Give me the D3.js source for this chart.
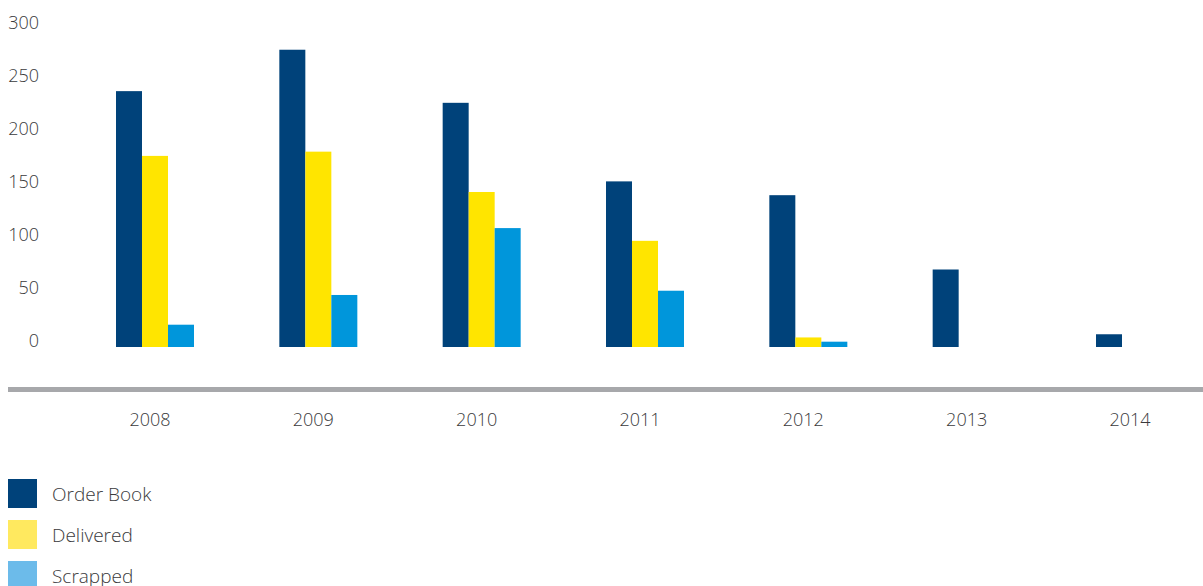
<!DOCTYPE html>
<html>
<head>
<meta charset="utf-8">
<script src="https://cdn.jsdelivr.net/npm/d3@7/dist/d3.min.js"></script>
<style>
  html, body { margin: 0; padding: 0; background: #ffffff; }
  svg text { font-family: "Open Sans", "Noto Sans", sans-serif; font-weight: 300; fill: #3a3a3c; }
</style>
</head>
<body>
<svg id="chart" width="1203" height="586"></svg>
<script>
// Fleet figures per year
const years = ["2008", "2009", "2010", "2011", "2012", "2013", "2014"];
const orderBook = [241, 280, 230, 156, 143, 73, 12];
const delivered = [180, 184, 146, 100, 9, 0, 0];
const scrapped = [21, 49, 112, 53, 5, 0, 0];
const seriesNames = ["Order Book", "Delivered", "Scrapped"];
const yTicks = [0, 50, 100, 150, 200, 250, 300];

const barColors = ["#00427a", "#ffe500", "#0096db"];
const legendColors = ["#00427a", "#ffe95f", "#6cbbea"];

const svg = d3.select("#chart");

const y = d3.scaleLinear().domain([0, 300]).range([347, 28.5]);
const x = d3.scalePoint().domain(years).range([150, 1130]);
const xs = d3.scaleBand().domain(seriesNames).range([-34, 44]).paddingInner(0);

const rows = years.map((yr, i) => ({
  year: yr,
  values: [orderBook[i], delivered[i], scrapped[i]]
}));

// Y tick labels (text baseline sits on the value)
svg.append("g")
  .selectAll("text")
  .data(yTicks)
  .join("text")
  .attr("x", 39)
  .attr("y", d => y(d))
  .attr("text-anchor", "end")
  .attr("font-size", 18)
  .text(d => d);

// Grouped bars
const groups = svg.append("g")
  .selectAll("g")
  .data(rows)
  .join("g")
  .attr("transform", d => `translate(${x(d.year)},0)`);

groups.selectAll("rect")
  .data(d => d.values.map((v, k) => ({ v, k })).filter(e => e.v > 0))
  .join("rect")
  .attr("x", d => xs(seriesNames[d.k]))
  .attr("width", xs.bandwidth())
  .attr("y", d => y(d.v))
  .attr("height", d => y(0) - y(d.v))
  .attr("fill", d => barColors[d.k]);

// Grey base rule
svg.append("line")
  .attr("x1", 8).attr("x2", 1203)
  .attr("y1", 389.5).attr("y2", 389.5)
  .attr("stroke", "#a7a8ab")
  .attr("stroke-width", 5);

// Year labels
svg.append("g")
  .selectAll("text")
  .data(years)
  .join("text")
  .attr("x", d => x(d))
  .attr("y", 426)
  .attr("text-anchor", "middle")
  .attr("font-size", 18)
  .text(d => d);

// Legend
const legend = svg.append("g")
  .selectAll("g")
  .data(seriesNames)
  .join("g")
  .attr("transform", (d, i) => `translate(8,${479 + i * 41})`);

legend.append("rect")
  .attr("width", 29)
  .attr("height", 29)
  .attr("fill", (d, i) => legendColors[i]);

legend.append("text")
  .attr("x", 44)
  .attr("y", 22)
  .attr("font-size", 19)
  .text(d => d);
</script>
</body>
</html>
